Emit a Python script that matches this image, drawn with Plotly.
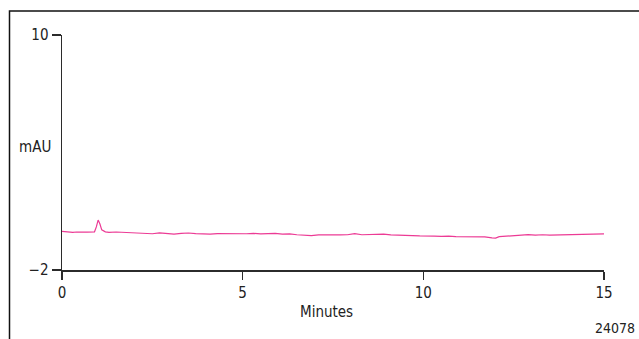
import plotly.graph_objects as go

# Data
minutes = [0.0, 0.1, 0.2, 0.3, 0.4, 0.5, 0.6, 0.7, 0.8, 0.9, 0.95, 1.0, 1.05, 1.1, 1.2, 1.3,
           1.5, 1.7, 1.9, 2.1, 2.3, 2.5, 2.7, 2.9, 3.1, 3.3, 3.5, 3.7, 3.9, 4.1, 4.3, 4.5,
           4.7, 4.9, 5.1, 5.3, 5.5, 5.7, 5.9, 6.1, 6.3, 6.5, 6.7, 6.9, 7.1, 7.3, 7.5, 7.7,
           7.9, 8.1, 8.3, 8.5, 8.7, 8.9, 9.1, 9.3, 9.5, 9.7, 9.9, 10.1, 10.3, 10.5, 10.7,
           10.9, 11.1, 11.3, 11.5, 11.7, 11.9, 12.0, 12.1, 12.3, 12.5, 12.7, 12.9, 13.1,
           13.3, 13.5, 13.7, 13.9, 14.1, 14.3, 14.5, 14.7, 14.9, 15.0]
mau = [-0.03, -0.05, -0.04, -0.08, -0.06, -0.08, -0.07, -0.07, -0.06, -0.05, 0.20, 0.55, 0.35,
       0.05, -0.05, -0.08, -0.06, -0.08, -0.10, -0.13, -0.12, -0.15, -0.10, -0.14, -0.17,
       -0.13, -0.11, -0.14, -0.15, -0.17, -0.14, -0.15, -0.13, -0.14, -0.15, -0.13, -0.16,
       -0.14, -0.13, -0.17, -0.16, -0.20, -0.22, -0.24, -0.21, -0.22, -0.20, -0.21, -0.20,
       -0.14, -0.20, -0.19, -0.18, -0.17, -0.21, -0.22, -0.20, -0.24, -0.26, -0.25, -0.27,
       -0.28, -0.27, -0.30, -0.31, -0.29, -0.32, -0.31, -0.36, -0.37, -0.30, -0.27, -0.25,
       -0.24, -0.19, -0.22, -0.20, -0.22, -0.21, -0.20, -0.22, -0.20, -0.19, -0.17, -0.18,
       -0.16]

x_ticks = [0, 5, 10, 15]
y_ticks = [-2, 10]
y_tick_labels = ["\u22122", "10"]

FONT = "Liberation Sans Narrow, DejaVu Sans Condensed, Arial Narrow, sans-serif"
AXC = "#2b2b2b"

fig = go.Figure()
fig.add_trace(go.Scatter(x=minutes, y=mau, mode="lines",
                         line=dict(color="#EC3B95", width=1.2), hoverinfo="skip"))

W, H = 639, 339
L, T = 62, 34.5
R, B = 35, 69
pw, ph = W - L - R, H - T - B


def px_x(x):
    return (x - L) / pw


def px_y(y):
    return (T + ph - y) / ph


fig.update_layout(
    width=W, height=H,
    margin=dict(l=L, r=R, t=T, b=B, pad=0),
    paper_bgcolor="white", plot_bgcolor="white",
    showlegend=False,
    font=dict(family=FONT, size=15, color="#222"),
    xaxis=dict(range=[0, 15], tickvals=x_ticks, showgrid=False, zeroline=False,
               showline=True, linecolor=AXC, linewidth=1.5,
               ticks="outside", ticklen=8, tickwidth=1.5, tickcolor=AXC),
    yaxis=dict(range=[-2, 10], tickvals=y_ticks, ticktext=y_tick_labels,
               showgrid=False, zeroline=False,
               showline=True, linecolor=AXC, linewidth=1.5,
               ticks="outside", ticklen=9, tickwidth=1.5, tickcolor=AXC),
    shapes=[dict(type="rect", xref="paper", yref="paper",
                 x0=px_x(9.5), x1=px_x(700), y0=px_y(400), y1=px_y(10.5),
                 line=dict(color="#111", width=1.5), fillcolor="rgba(0,0,0,0)")],
    annotations=[
        dict(text="mAU", xref="paper", yref="paper", x=px_x(35), y=px_y(147),
             showarrow=False, xanchor="center", yanchor="middle", font=dict(size=15)),
        dict(text="Minutes", xref="paper", yref="paper", x=px_x(326), y=px_y(312),
             showarrow=False, xanchor="center", yanchor="middle", font=dict(size=15)),
        dict(text="24078", xref="paper", yref="paper", x=px_x(637), y=px_y(328),
             showarrow=False, xanchor="right", yanchor="middle", font=dict(size=14)),
    ],
)

fig.write_html(
    "out.html",
    config={"displayModeBar": False, "staticPlot": True},
    post_script="document.body.style.margin='0';document.body.style.overflow='hidden';",
)
